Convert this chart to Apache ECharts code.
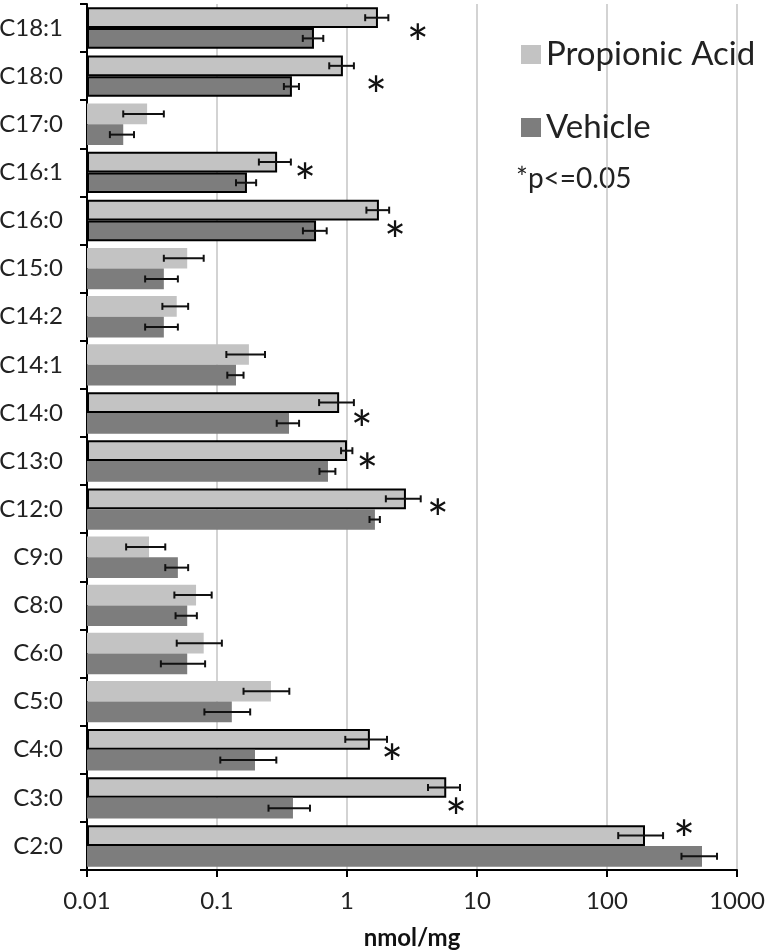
<!DOCTYPE html>
<html><head><meta charset="utf-8">
<script src="https://cdn.jsdelivr.net/npm/echarts@6/dist/echarts.min.js"></script>
<style>html,body{margin:0;padding:0;background:#fff}#c{width:766px;height:952px}</style>
</head><body><div id="c"></div>
<script>
// Categories listed bottom (index 0) to top
const categories = ['C2:0','C3:0','C4:0','C5:0','C6:0','C8:0','C9:0','C12:0','C13:0','C14:0','C14:1','C14:2','C15:0','C16:0','C16:1','C17:0','C18:0','C18:1'];
const propionic    = [196, 5.8, 1.5, 0.26, 0.079, 0.069, 0.030, 2.84, 1.0, 0.87, 0.176, 0.049, 0.059, 1.76, 0.29, 0.029, 0.93, 1.73];
const propionicErr = [74, 1.6, 0.53, 0.10, 0.030, 0.022, 0.010, 0.85, 0.10, 0.26, 0.058, 0.011, 0.020, 0.35, 0.08, 0.010, 0.20, 0.35];
const vehicle      = [538, 0.384, 0.196, 0.13, 0.059, 0.059, 0.050, 1.64, 0.714, 0.358, 0.14, 0.039, 0.039, 0.578, 0.17, 0.019, 0.377, 0.557];
const vehicleErr   = [164, 0.135, 0.09, 0.05, 0.022, 0.011, 0.010, 0.15, 0.10, 0.07, 0.02, 0.011, 0.011, 0.12, 0.03, 0.004, 0.05, 0.10];
const significant  = ['C2:0','C3:0','C4:0','C12:0','C13:0','C14:0','C16:0','C16:1','C18:0','C18:1'];
const vehicleOutlined = ['C16:0','C16:1','C18:0','C18:1'];
// x value where each significance asterisk sits
const asteriskX = {'C2:0':391,'C3:0':6.9,'C4:0':2.22,'C12:0':5.0,'C13:0':1.43,'C14:0':1.3,'C16:0':2.34,'C16:1':0.475,'C18:0':1.67,'C18:1':3.5};
const xTickValues = [0.01, 0.1, 1, 10, 100, 1000];
const xTickLabels = ['0.01','0.1','1','10','100','1000'];
const seriesNames = ['Propionic Acid','Vehicle'];
const xAxisName = 'nmol/mg';
const noteText = '*p<=0.05';

// layout / style constants
const FONT = 'Lato';
const GAP = 0.14;
const asteriskNudge = {'C2:0':-17,'C3:0':9,'C4:0':4,'C12:0':-1,'C13:0':1,'C14:0':6,'C16:0':10,'C16:1':0,'C18:0':9,'C18:1':5};
const ASTERISK_BASE_SHIFT = 13;

const chart = echarts.init(document.getElementById('c'), null, {renderer:'canvas'});

function barData(vals, outlinedList){
  return vals.map((v,i)=>{
    const out = outlinedList.indexOf(categories[i]) >= 0;
    return out ? {value:v, itemStyle:{borderColor:'#000', borderWidth:2}} : {value:v};
  });
}
function errData(vals, errs){
  return vals.map((v,i)=>[v, i, v-errs[i], v+errs[i]]);
}
function makeErr(sign){
  return function(params, api){
    const idx = api.value(1);
    const lo = api.coord([api.value(2), idx]);
    const hi = api.coord([api.value(3), idx]);
    const band = api.size([0,1],[1,idx])[1];
    const barW = band*(1-GAP)/2;
    const y = lo[1] + sign*barW/2;
    const cap = 3.5;
    const st = {stroke:'#111', lineWidth:2};
    return {type:'group', children:[
      {type:'line', shape:{x1:lo[0],y1:y,x2:hi[0],y2:y}, style:st},
      {type:'line', shape:{x1:lo[0],y1:y-cap,x2:lo[0],y2:y+cap}, style:st},
      {type:'line', shape:{x1:hi[0],y1:y-cap,x2:hi[0],y2:y+cap}, style:st}
    ]};
  };
}
function renderAsterisk(params, api){
  const p = api.coord([api.value(0), api.value(1)]);
  const c = categories[api.value(1)];
  return {type:'text', x:p[0], y:p[1] + (asteriskNudge[c]||0) + ASTERISK_BASE_SHIFT,
    style:{text:'*', font:'52px '+FONT, fill:'#111', align:'center', verticalAlign:'middle'}};
}
const asteriskData = categories.map((c,i)=> asteriskX[c] != null ? [asteriskX[c], i] : null).filter(Boolean);

chart.setOption({
  animation:false,
  textStyle:{fontFamily:FONT},
  grid:{left:87, right:29, top:4, bottom:82, containLabel:false, outerBoundsMode:'none'},
  legend:{
    data:seriesNames, orient:'vertical', left:516, top:33,
    icon:'rect', itemWidth:20, itemHeight:19, itemGap:40,
    textStyle:{fontFamily:FONT, fontSize:33, color:'#222'},
    selectedMode:false
  },
  graphic:[{type:'text', left:516, top:165, style:{text:noteText, font:'28px '+FONT, fill:'#222'}}],
  xAxis:{
    type:'log', logBase:10, min:xTickValues[0], max:xTickValues[xTickValues.length-1], startValue:xTickValues[0],
    axisLine:{show:true, lineStyle:{color:'#000', width:2}},
    axisTick:{show:true, length:7, lineStyle:{color:'#000', width:2}},
    splitLine:{show:true, lineStyle:{color:'#c4c4c4', width:1.5}},
    axisLabel:{fontSize:24, color:'#222', margin:19, fontFamily:FONT,
      formatter:v=>{const k=xTickValues.findIndex(t=>Math.abs(Math.log10(t)-Math.log10(v))<1e-6); return k>=0?xTickLabels[k]:'';}},
    name:xAxisName, nameLocation:'middle', nameGap:56,
    nameTextStyle:{fontSize:24, fontWeight:'bold', color:'#111', fontFamily:FONT}
  },
  yAxis:{
    type:'category', data:categories,
    axisLine:{show:true, lineStyle:{color:'#000', width:2}},
    axisTick:{show:true, length:7, interval:0, alignWithLabel:false, lineStyle:{color:'#000', width:2}},
    axisLabel:{fontSize:24, color:'#222', margin:24, fontFamily:FONT, interval:0},
    splitLine:{show:false}
  },
  series:[
    {name:seriesNames[0], type:'bar', data:barData(propionic, significant), barGap:'0%', barCategoryGap:(GAP*100)+'%', itemStyle:{color:'#c3c3c3'}},
    {name:seriesNames[1], type:'bar', data:barData(vehicle, vehicleOutlined), barGap:'0%', barCategoryGap:(GAP*100)+'%', itemStyle:{color:'#7d7d7d'}},
    {type:'custom', name:'errP', renderItem:makeErr(-1), data:errData(propionic, propionicErr), encode:{x:[0,2,3], y:1}, z:5},
    {type:'custom', name:'errV', renderItem:makeErr(1), data:errData(vehicle, vehicleErr), encode:{x:[0,2,3], y:1}, z:5},
    {type:'custom', name:'sig', renderItem:renderAsterisk, data:asteriskData, encode:{x:0, y:1}, z:6, clip:false}
  ]
});
</script></body></html>
